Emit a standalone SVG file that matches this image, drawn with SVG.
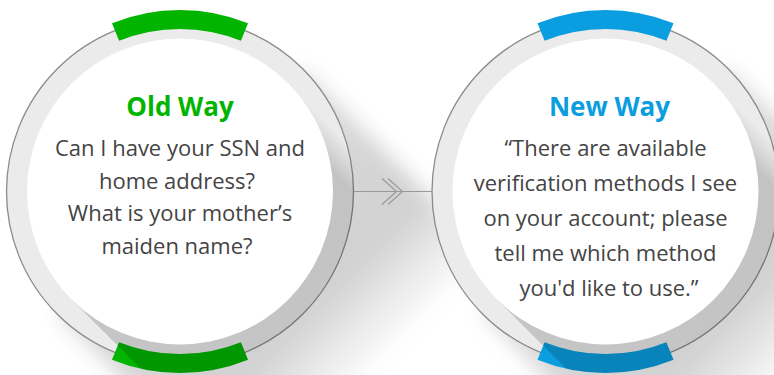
<svg xmlns="http://www.w3.org/2000/svg" xmlns:xlink="http://www.w3.org/1999/xlink" width="774" height="375" viewBox="0 0 774 375">
<style>
.ring{fill:#ebebeb;stroke:#8a8a8a;stroke-width:1.3}
.disk{fill:#ffffff}
.green{fill:#00b400}
.blue{fill:#0a9ddf}
.title{font-family:"Open Sans","Liberation Sans",sans-serif;font-weight:bold;font-size:26px;text-anchor:middle}
.body{font-family:"Open Sans","Liberation Sans",sans-serif;font-size:22px;fill:#444444;text-anchor:middle}
.conn{fill:none;stroke:#9a9a9a;stroke-width:1.2}
</style>
<defs>
<path id="bandT" d="M-68,-168.3 A181.5,181.5 0 0 1 68,-168.3 L60.9,-150.7 A162.5,162.5 0 0 0 -60.9,-150.7 Z"/>
<path id="bandB" d="M-68,168.3 A181.5,181.5 0 0 0 68,168.3 L60.9,150.7 A162.5,162.5 0 0 1 -60.9,150.7 Z"/>
<path id="outerShadow" d="M122.7,-122.7 L422.7,177.3 A173.5,173.5 0 0 1 177.3,422.7 L-122.7,122.7 Z"/>
<path id="innerShadow" d="M108.2,-108.2 L408.2,191.8 A153,153 0 0 1 191.8,408.2 L-108.2,108.2 Z"/>
<linearGradient id="gOuter" gradientUnits="userSpaceOnUse" x1="0" y1="0" x2="187.4" y2="187.4">
<stop offset="0" stop-color="#000" stop-opacity="0.14"/>
<stop offset="0.66" stop-color="#000" stop-opacity="0.18"/>
<stop offset="1" stop-color="#000" stop-opacity="0"/>
</linearGradient>
<linearGradient id="gInner" gradientUnits="userSpaceOnUse" x1="108.2" y1="-108.2" x2="-108.2" y2="108.2">
<stop offset="0" stop-color="#000" stop-opacity="0"/>
<stop offset="0.1" stop-color="#000" stop-opacity="0.17"/>
<stop offset="1" stop-color="#000" stop-opacity="0.16"/>
</linearGradient>
<clipPath id="ringClip">
<circle cx="0" cy="0" r="174"/>
<use xlink:href="#bandB"/>
</clipPath>
<filter id="blur" x="-50%" y="-50%" width="200%" height="200%">
<feGaussianBlur stdDeviation="10"/>
</filter>
</defs>

<g id="shadows">
<use xlink:href="#outerShadow" transform="translate(180,191.5)" fill="url(#gOuter)" filter="url(#blur)"/>
<use xlink:href="#outerShadow" transform="translate(605.5,191.5)" fill="url(#gOuter)" filter="url(#blur)"/>
</g>

<g id="connectors">
<line class="conn" x1="353.5" y1="191.5" x2="432" y2="191.5"/>
<polyline class="conn" points="382,178.5 396.5,191.5 382,204.5"/>
<polyline class="conn" points="388,178.5 402.5,191.5 388,204.5"/>
</g>

<g id="old-way" transform="translate(180,191.5)">
<circle class="ring" cx="0" cy="0" r="173.5"/>
<use xlink:href="#bandT" class="green"/>
<use xlink:href="#bandB" class="green"/>
<g clip-path="url(#ringClip)">
<use xlink:href="#innerShadow" fill="url(#gInner)"/>
</g>
<circle class="disk" cx="0" cy="0" r="153"/>
<text class="title" x="0" y="-75.5" fill="#00b400">Old Way</text>
<text class="body" x="0" y="-35.5">Can I have your SSN and</text>
<text class="body" x="-3" y="-3">home address?</text>
<text class="body" x="0" y="29.5">What is your mother’s</text>
<text class="body" x="-3" y="62">maiden name?</text>
</g>

<g id="new-way" transform="translate(605.5,191.5)">
<circle class="ring" cx="0" cy="0" r="173.5"/>
<use xlink:href="#bandT" class="blue"/>
<use xlink:href="#bandB" class="blue"/>
<g clip-path="url(#ringClip)">
<use xlink:href="#innerShadow" fill="url(#gInner)"/>
</g>
<circle class="disk" cx="0" cy="0" r="153"/>
<text class="title" x="4" y="-75.5" fill="#0a9ddf">New Way</text>
<text class="body" x="0" y="-35.5">“There are available</text>
<text class="body" x="0" y="-0.5">verification methods I see</text>
<text class="body" x="0" y="34.5">on your account; please</text>
<text class="body" x="0" y="69.5">tell me which method</text>
<text class="body" x="3.5" y="104.5">you'd like to use.”</text>
</g>
</svg>
